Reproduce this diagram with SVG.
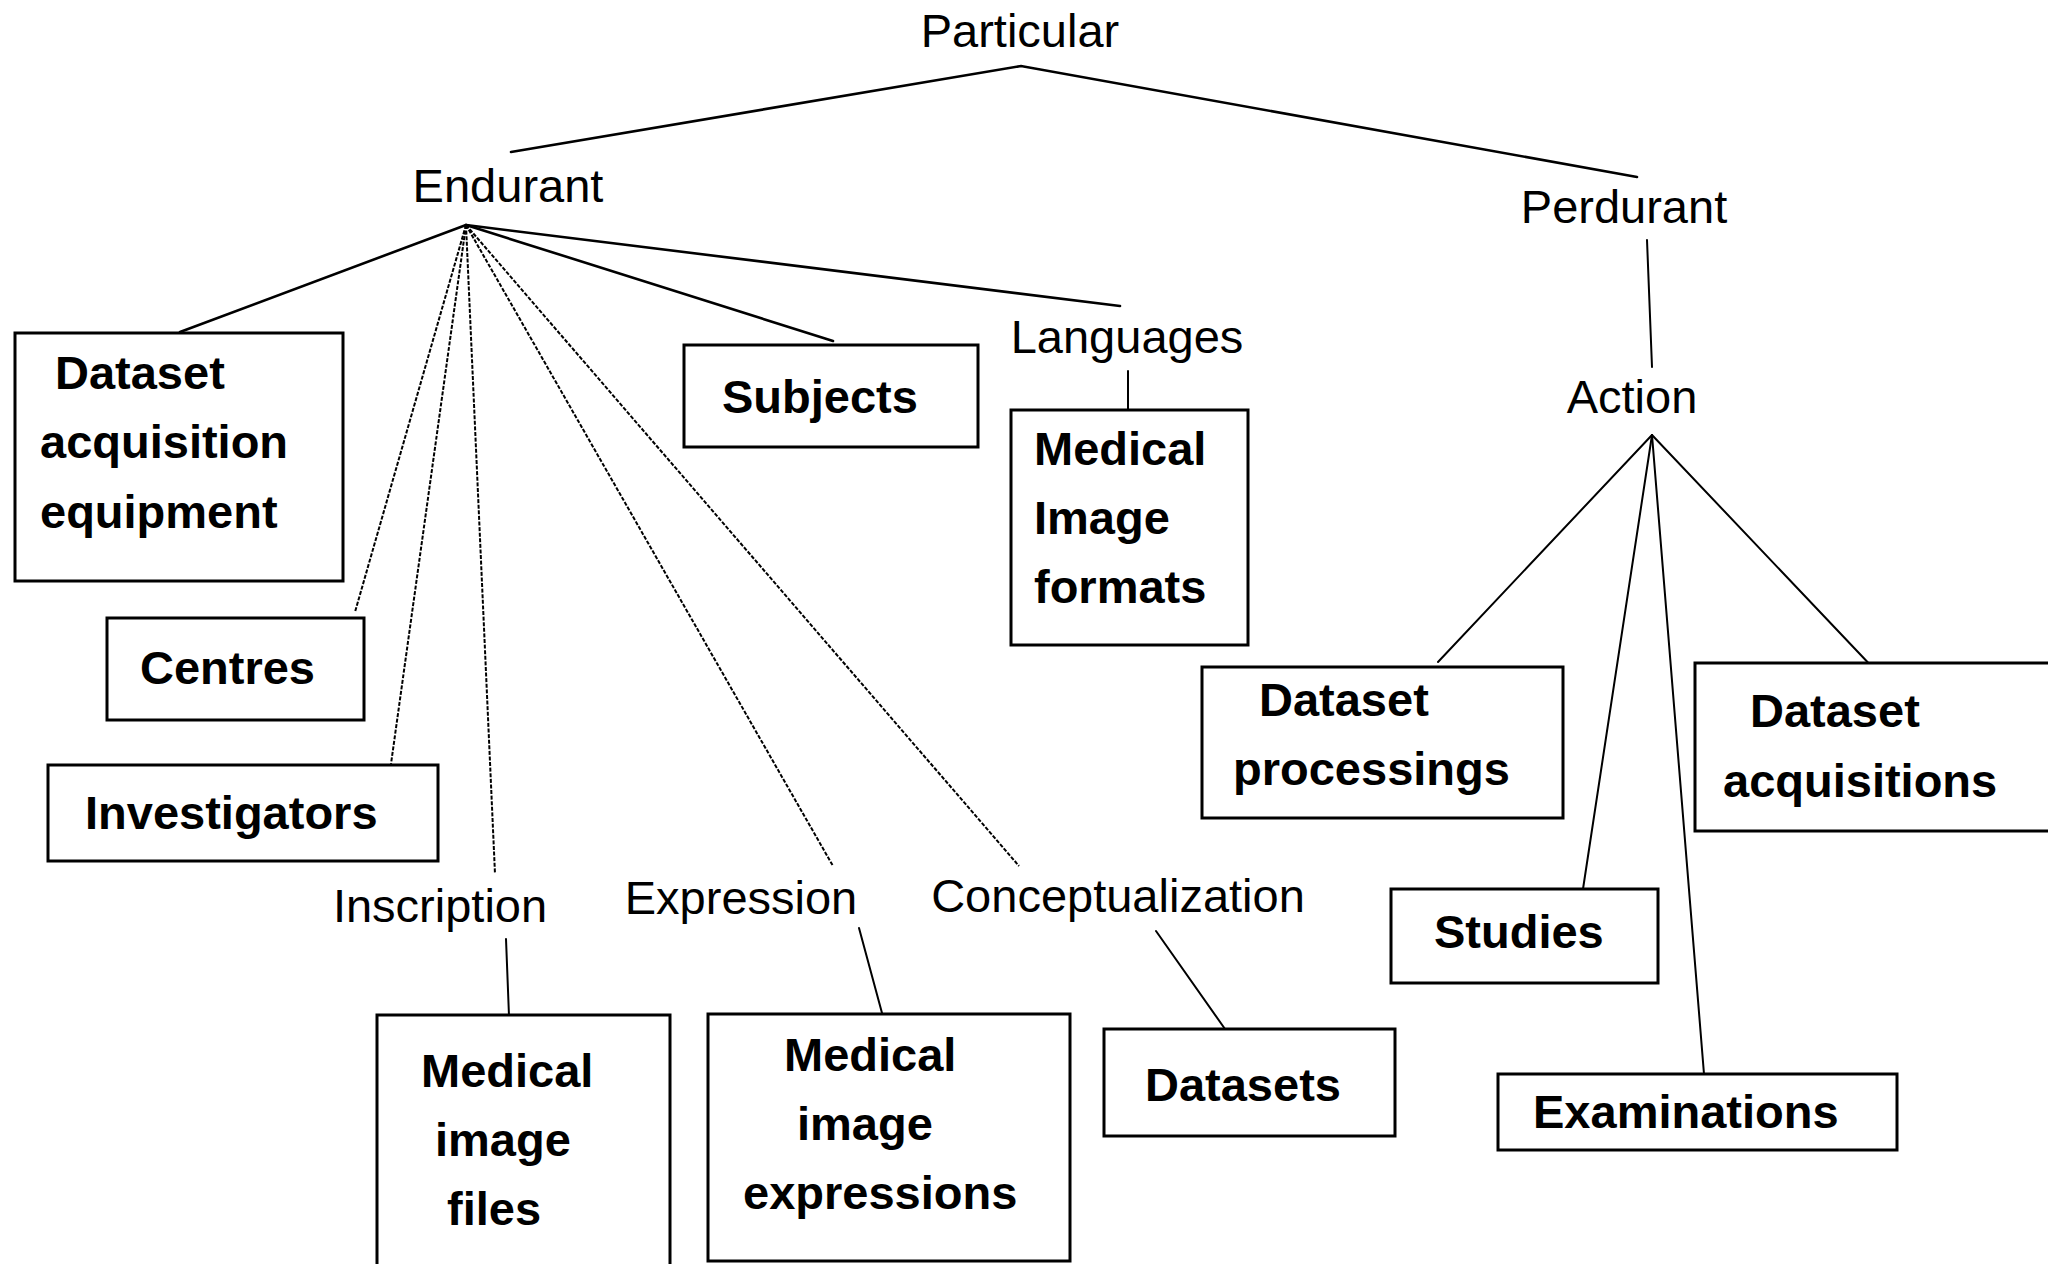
<svg xmlns="http://www.w3.org/2000/svg" width="2048" height="1264" viewBox="0 0 2048 1264">
  <style>
    .bg { fill: #ffffff; }
    .box { fill: #ffffff; stroke: #000000; stroke-width: 3; }
    .lbl { font-family: "Liberation Sans", Arial, sans-serif; font-size: 47px; fill: #000000; }
    .ctr { text-anchor: middle; }
    .bold { font-family: "Liberation Sans", Arial, sans-serif; font-size: 47px; font-weight: bold; fill: #000000; }
    .solid { stroke: #000000; stroke-width: 2.6; fill: none; stroke-linecap: round; }
    .thin { stroke: #000000; stroke-width: 2; fill: none; stroke-linecap: round; }
    .dash { stroke: #000000; stroke-width: 2; fill: none; stroke-dasharray: 4 1.6; }
  </style>
  <rect class="bg" x="0" y="0" width="2048" height="1264"/>

  <!-- connectors -->
  <g id="connectors">
    <!-- Particular -> Endurant / Perdurant -->
    <polyline class="solid" points="511,152 1021,66 1637,177"/>
    <!-- Endurant branches -->
    <line class="solid" x1="466" y1="225" x2="180" y2="332"/>
    <line class="dash" x1="466" y1="225" x2="355" y2="612"/>
    <line class="dash" x1="466" y1="225" x2="391" y2="764"/>
    <line class="dash" x1="466" y1="225" x2="495" y2="874"/>
    <line class="dash" x1="466" y1="225" x2="833" y2="866"/>
    <line class="dash" x1="466" y1="225" x2="1019" y2="866"/>
    <line class="solid" x1="466" y1="225" x2="833" y2="341"/>
    <line class="solid" x1="466" y1="225" x2="1120" y2="306"/>
    <!-- intermediate labels -> boxes -->
    <line class="thin" x1="1128" y1="371" x2="1128" y2="411"/>
    <line class="thin" x1="506" y1="939" x2="509" y2="1016"/>
    <line class="thin" x1="859" y1="928" x2="882" y2="1013"/>
    <line class="thin" x1="1156" y1="931" x2="1225" y2="1029"/>
    <!-- Perdurant -> Action -->
    <line class="thin" x1="1647" y1="240" x2="1652" y2="367"/>
    <!-- Action branches -->
    <line class="thin" x1="1652" y1="435" x2="1438" y2="662"/>
    <line class="thin" x1="1652" y1="435" x2="1583" y2="889"/>
    <line class="thin" x1="1652" y1="435" x2="1704" y2="1074"/>
    <line class="thin" x1="1652" y1="435" x2="1876" y2="671"/>
  </g>

  <!-- plain labels -->
  <g id="particular"><text class="lbl ctr" x="1020" y="47">Particular</text></g>
  <g id="endurant"><text class="lbl ctr" x="508" y="202">Endurant</text></g>
  <g id="perdurant"><text class="lbl ctr" x="1624" y="223">Perdurant</text></g>
  <g id="languages"><text class="lbl ctr" x="1127" y="353">Languages</text></g>
  <g id="action"><text class="lbl ctr" x="1632" y="413">Action</text></g>
  <g id="inscription"><text class="lbl ctr" x="440" y="922">Inscription</text></g>
  <g id="expression"><text class="lbl ctr" x="741" y="914">Expression</text></g>
  <g id="conceptualization"><text class="lbl ctr" x="1118" y="912">Conceptualization</text></g>

  <!-- boxed nodes -->
  <g id="dataset-acquisition-equipment">
    <rect class="box" x="15" y="333" width="328" height="248"/>
    <text class="bold" x="55" y="389">Dataset</text>
    <text class="bold" x="40" y="458">acquisition</text>
    <text class="bold" x="40" y="528">equipment</text>
  </g>
  <g id="subjects">
    <rect class="box" x="684" y="345" width="294" height="102"/>
    <text class="bold" x="722" y="413">Subjects</text>
  </g>
  <g id="medical-image-formats">
    <rect class="box" x="1011" y="410" width="237" height="235"/>
    <text class="bold" x="1034" y="465">Medical</text>
    <text class="bold" x="1034" y="534">Image</text>
    <text class="bold" x="1034" y="603">formats</text>
  </g>
  <g id="centres">
    <rect class="box" x="107" y="618" width="257" height="102"/>
    <text class="bold" x="140" y="684">Centres</text>
  </g>
  <g id="investigators">
    <rect class="box" x="48" y="765" width="390" height="96"/>
    <text class="bold" x="85" y="829">Investigators</text>
  </g>
  <g id="medical-image-files">
    <rect class="box" x="377" y="1015" width="293" height="260"/>
    <text class="bold" x="421" y="1087">Medical</text>
    <text class="bold" x="435" y="1156">image</text>
    <text class="bold" x="447" y="1225">files</text>
  </g>
  <g id="medical-image-expressions">
    <rect class="box" x="708" y="1014" width="362" height="247"/>
    <text class="bold" x="784" y="1071">Medical</text>
    <text class="bold" x="797" y="1140">image</text>
    <text class="bold" x="743" y="1209">expressions</text>
  </g>
  <g id="datasets">
    <rect class="box" x="1104" y="1029" width="291" height="107"/>
    <text class="bold" x="1145" y="1101">Datasets</text>
  </g>
  <g id="dataset-processings">
    <rect class="box" x="1202" y="667" width="361" height="151"/>
    <text class="bold" x="1259" y="716">Dataset</text>
    <text class="bold" x="1233" y="785">processings</text>
  </g>
  <g id="dataset-acquisitions">
    <rect class="box" x="1695" y="663" width="360" height="168"/>
    <text class="bold" x="1750" y="727">Dataset</text>
    <text class="bold" x="1723" y="797">acquisitions</text>
  </g>
  <g id="studies">
    <rect class="box" x="1391" y="889" width="267" height="94"/>
    <text class="bold" x="1434" y="948">Studies</text>
  </g>
  <g id="examinations">
    <rect class="box" x="1498" y="1074" width="399" height="76"/>
    <text class="bold" x="1533" y="1128">Examinations</text>
  </g>
</svg>
